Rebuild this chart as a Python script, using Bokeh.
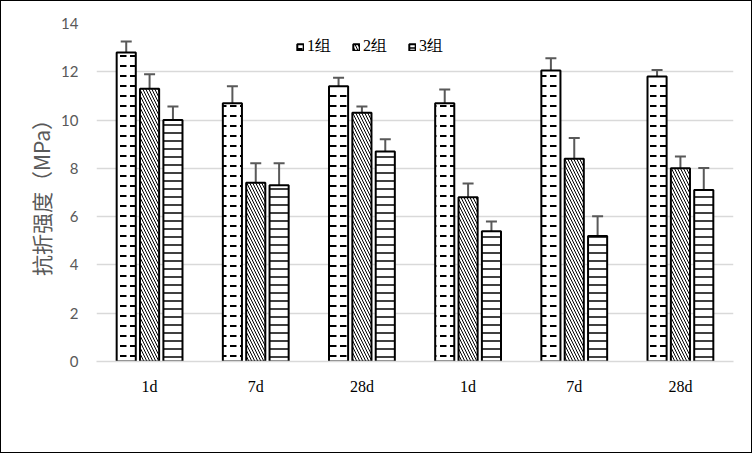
from bokeh.plotting import figure
from bokeh.models import (ColumnDataSource, Range1d, FixedTicker, Whisker, TeeHead,
                          Legend, LegendItem, InlineStyleSheet)
from bokeh.core.properties import value
from bokeh.embed import file_html
from bokeh.resources import INLINE

# ---- data ----
categories = ["1d", "7d", "28d", "1d", "7d", "28d"]
series_names = ["1组", "2组", "3组"]
g1 = [12.8, 10.7, 11.4, 10.7, 12.05, 11.8]
g2 = [11.3, 7.4, 10.3, 6.8, 8.4, 8.0]
g3 = [10.0, 7.3, 8.7, 5.4, 5.2, 7.1]
g1_up = [13.25, 11.4, 11.75, 11.27, 12.56, 12.07]
g1_lo = [12.38, 10.08, 10.56, 10.25, 11.56, 10.91]
g2_up = [11.9, 8.21, 10.56, 7.37, 9.26, 8.49]
g2_lo = [10.31, 6.39, 9.29, 5.84, 7.39, 7.0]
g3_up = [10.56, 8.21, 9.21, 5.8, 6.02, 8.01]
g3_lo = [8.99, 6.31, 7.72, 4.42, 3.81, 6.09]
y_ticks = [0, 2, 4, 6, 8, 10, 12, 14]

values = [g1, g2, g3]
uppers = [g1_up, g2_up, g3_up]
lowers = [g1_lo, g2_lo, g3_lo]
offsets = [-0.22, 0.0, 0.22]
hatches = ['"', "\\", "-"]
hatch_scales = [10, 6, 8]
hatch_weights = [2, 1, 1.5]

W, H = 752, 453
border_css = InlineStyleSheet(css="""
:host { position: relative; }
:host::after { content: ""; position: absolute; left: 0; top: 0; right: 0; bottom: 0;
  border: 1.5px solid #000; pointer-events: none; z-index: 1000; }
""")
p = figure(width=W, height=H, output_backend="svg", toolbar_location=None,
           x_range=Range1d(0, len(categories)), y_range=Range1d(0, 14),
           min_border_left=96, min_border_right=19, min_border_top=23,
           min_border_bottom=92, stylesheets=[border_css])
p.outline_line_color = None
p.background_fill_color = "white"
p.border_fill_color = "white"

items = []
for k in range(3):
    xs = [i + 0.5 + offsets[k] for i in range(len(categories))]
    src = ColumnDataSource(dict(x=xs, top=values[k], up=uppers[k], lo=lowers[k]))
    r = p.vbar(x="x", top="top", width=0.18, source=src, fill_color="white",
               line_color="black", line_width=2, hatch_pattern=hatches[k],
               hatch_color="black", hatch_scale=hatch_scales[k],
               hatch_weight=hatch_weights[k])
    w = Whisker(base="x", upper="up", lower="lo", source=src,
                line_color="#595959", line_width=2,
                upper_head=TeeHead(size=11, line_color="#595959", line_width=2),
                lower_head=TeeHead(size=11, line_color="#595959", line_width=2))
    p.add_layout(w)
    items.append(LegendItem(label=series_names[k], renderers=[r]))

# axes
p.xaxis.ticker = FixedTicker(ticks=[i + 0.5 for i in range(len(categories))])
p.xaxis.major_label_overrides = {i + 0.5: c for i, c in enumerate(categories)}
p.xaxis.major_label_text_font = "Liberation Serif"
p.xaxis.major_label_text_font_size = "16px"
p.xaxis.major_label_text_color = "#000000"
p.xaxis.major_label_standoff = 10
p.xaxis.axis_line_color = "#d9d9d9"
p.xaxis.axis_line_width = 1.5
p.xaxis.major_tick_line_color = None
p.xaxis.minor_tick_line_color = None

p.yaxis.ticker = FixedTicker(ticks=y_ticks)
p.yaxis.major_label_text_font = "Lato"
p.yaxis.major_label_text_font_size = "15px"
p.yaxis.major_label_text_color = "#595959"
p.yaxis.major_label_standoff = 12
p.yaxis.axis_line_color = None
p.yaxis.major_tick_line_color = None
p.yaxis.minor_tick_line_color = None
p.yaxis.axis_label = "抗折强度（MPa）"
p.yaxis.axis_label_text_font = "Noto Sans CJK SC"
p.yaxis.axis_label_text_font_style = "normal"
p.yaxis.axis_label_text_font_size = "21px"
p.yaxis.axis_label_text_color = "#595959"
p.yaxis.axis_label_standoff = 2

p.xgrid.grid_line_color = None
p.ygrid.grid_line_color = "#d9d9d9"
p.ygrid.grid_line_width = 1.5

legend = Legend(items=items, orientation="horizontal", location=(200, 304),
                padding=0, margin=0, spacing=21, label_standoff=3,
                glyph_width=8, glyph_height=8, label_height=18,
                label_text_font="Liberation Serif", label_text_font_size="16px",
                label_text_color="#000000", background_fill_alpha=0,
                border_line_color=None)
p.add_layout(legend)

open("out.html", "w").write(file_html(p, INLINE))
